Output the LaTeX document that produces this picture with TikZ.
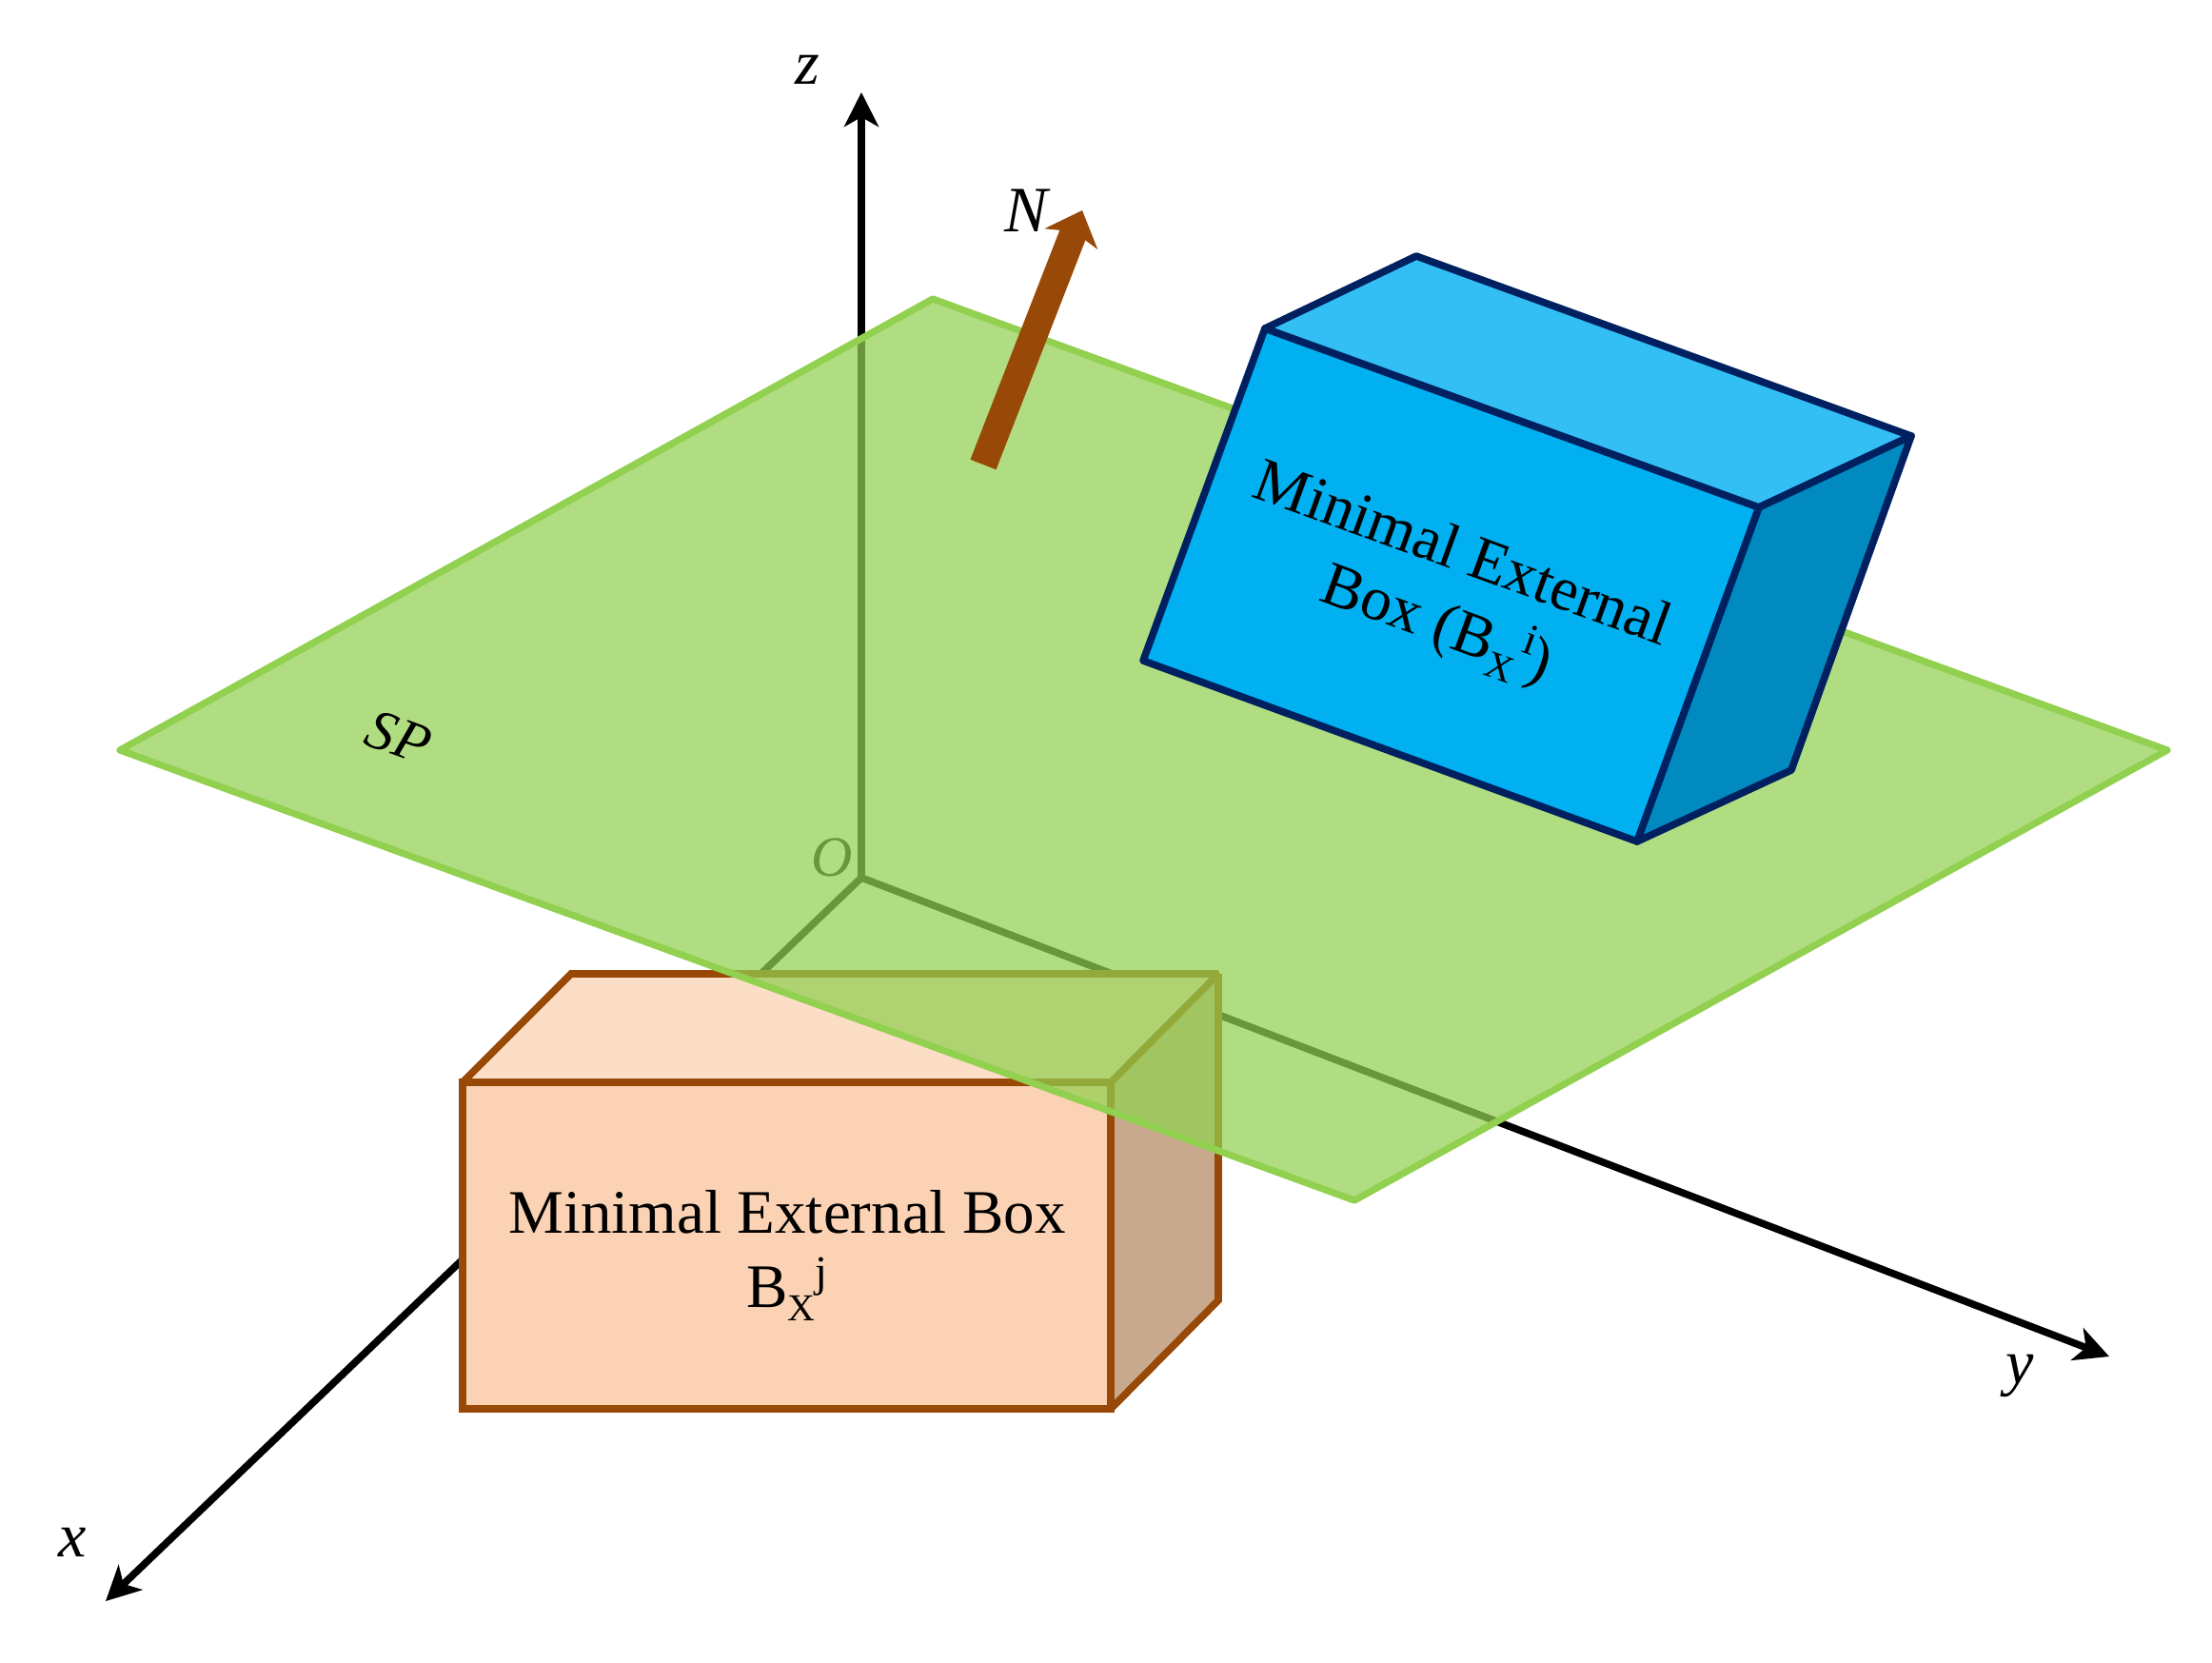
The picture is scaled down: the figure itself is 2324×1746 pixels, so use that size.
\documentclass[tikz,border=0pt]{standalone}
\usepackage{fontspec}
\setmainfont{Liberation Serif}
\usetikzlibrary{arrows.meta}
\definecolor{planefill}{HTML}{92D050}
\definecolor{boxbrown}{HTML}{984807}
\definecolor{boxfront}{HTML}{FBD3B4}
\definecolor{boxtop}{HTML}{FCDDC5}
\definecolor{boxside}{HTML}{C8A98E}
\definecolor{blueline}{HTML}{002060}
\definecolor{bluefront}{HTML}{00B0F0}
\definecolor{bluetop}{HTML}{33BEF4}
\definecolor{blueside}{HTML}{008ABF}
\newcommand{\subX}{\raisebox{-7pt}{\fontsize{20}{20}\selectfont X}}
\newcommand{\supL}[1]{\raisebox{11pt}{\fontsize{23}{23}\selectfont #1}}
\tikzset{
  axisline/.style={line width=3.8pt,-{Stealth[length=18pt,width=18pt,inset=5pt]}},
  orangeface/.style={draw=boxbrown,line width=3.8pt,line join=miter,miter limit=2},
  blueface/.style={draw=blueline,line width=3.8pt,line join=round},
  planeface/.style={draw=planefill,fill=planefill,fill opacity=0.72,line width=3.6pt,line join=round},
  mathlabel/.style={font=\fontsize{30}{36}\selectfont\itshape,inner sep=0pt},
  biglabel/.style={font=\fontsize{33}{36}\selectfont\itshape,inner sep=0pt},
  boxlabel/.style={font=\fontsize{32.5}{39}\selectfont,align=center,inner sep=0pt},
  normalarrow/.style={draw=boxbrown,line width=14.5pt,-{Stealth[length=16pt,width=29.5pt,inset=4pt]}}
}
\begin{document}
\begin{tikzpicture}[x=0.5pt,y=-0.5pt]
\useasboundingbox (0,0) rectangle (2324,1746);
% axes
\coordinate (O) at (905,922);
\coordinate (zEnd) at (905,97);
\coordinate (yEnd) at (2216,1425);
\coordinate (xEnd) at (111,1682);
\draw[axisline] (O) -- (zEnd);
\draw[axisline] (O) -- (yEnd);
\draw[axisline] (O) -- (xEnd);
\node[mathlabel] (labO) at (874,901) {O};
\node[biglabel] (labZ) at (848,73) {z};
\node[biglabel] (labY) at (2122,1445) {y};
\node[biglabel] (labX) at (76,1620) {x};
% orange box
\coordinate (a1) at (486,1137);
\coordinate (a2) at (1167,1137);
\coordinate (a3) at (1167,1480);
\coordinate (a4) at (486,1480);
\coordinate (a5) at (600,1023);
\coordinate (a6) at (1280,1023);
\coordinate (a7) at (1280,1366);
\fill[boxtop] (a1) -- (a5) -- (a6) -- (a2) -- cycle;
\fill[boxside] (a2) -- (a6) -- (a7) -- (a3) -- cycle;
\draw[orangeface,fill=boxfront] (a1) rectangle (a3);
\draw[orangeface] (a1) -- (a5) -- (a6) -- (a2);
\draw[orangeface] (a6) -- (a7) -- (a3);
\node[boxlabel] (labA) at (827,1319) {Minimal External Box\\B\subX\supL{j}};
% plane
\coordinate (p1) at (980,314);
\coordinate (p2) at (2277,788);
\coordinate (p3) at (1423,1261);
\coordinate (p4) at (126,788);
\draw[planeface] (p1) -- (p2) -- (p3) -- (p4) -- cycle;
\node[mathlabel,rotate=-20] (labSP) at (419,774) {SP};
% normal
\coordinate (nBase) at (1033,488);
\coordinate (nTip) at (1137,221);
\draw[normalarrow] (nBase) -- (nTip);
\node[mathlabel,font=\fontsize{34}{36}\selectfont\itshape] (labN) at (1078,221) {N};
% blue box
\coordinate (b1) at (1329,345);
\coordinate (b2) at (1848,533);
\coordinate (b3) at (1720,884);
\coordinate (b4) at (1201,694);
\coordinate (b5) at (1488,269);
\coordinate (b6) at (2008,458);
\coordinate (b7) at (1882,809);
\draw[blueface,fill=bluefront] (b1) -- (b2) -- (b3) -- (b4) -- cycle;
\draw[blueface,fill=bluetop] (b1) -- (b5) -- (b6) -- (b2) -- cycle;
\draw[blueface,fill=blueside] (b2) -- (b6) -- (b7) -- (b3) -- cycle;
\node[boxlabel,rotate=-20] (labB) at (1522,622) {Minimal External\\Box (B\subX\supL{i})};
\end{tikzpicture}
\end{document}
